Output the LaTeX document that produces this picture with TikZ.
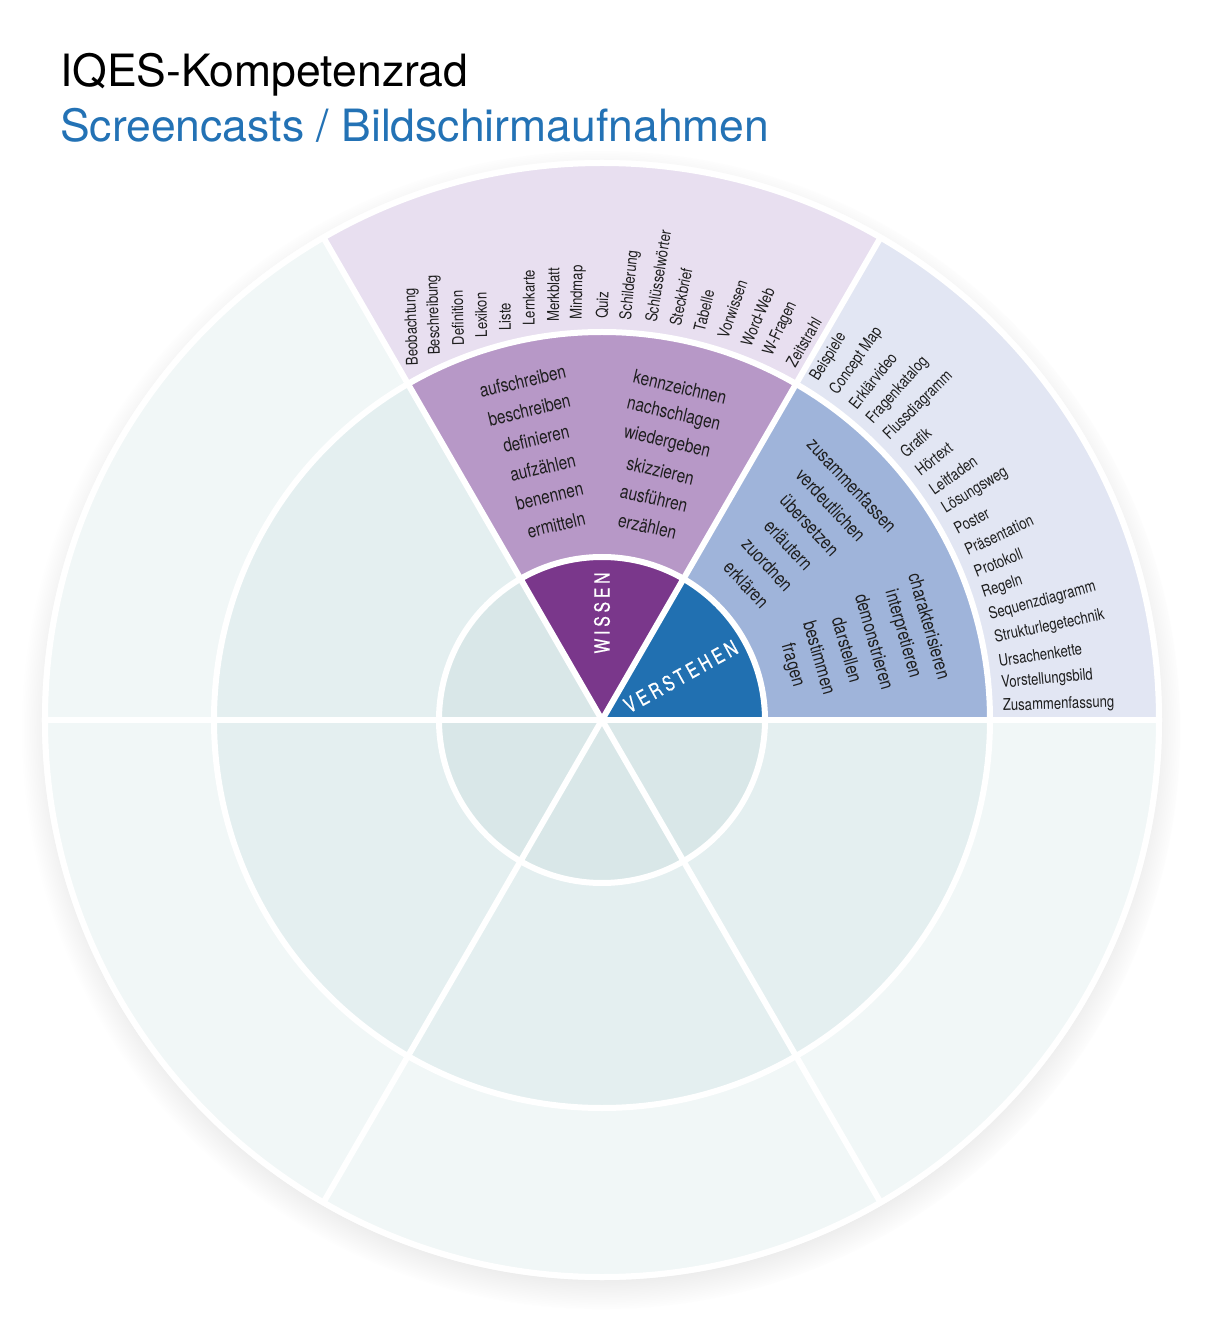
\documentclass[tikz,border=0pt]{standalone}
\usepackage{fontspec}
\setmainfont{TeX Gyre Heros}
\newfontfamily\narrowfont[FakeStretch=0.81]{TeX Gyre Heros}
\newfontfamily\trackfont[FakeStretch=0.75,FakeBold=0.6,LetterSpace=18]{TeX Gyre Heros}
\usetikzlibrary{shadows,fadings}
\definecolor{greyin}{HTML}{D9E7E8}
\definecolor{greymid}{HTML}{E4EFF0}
\definecolor{greyout}{HTML}{F1F7F7}
\definecolor{wissendark}{HTML}{7A378B}
\definecolor{wissenmid}{HTML}{B798C7}
\definecolor{wissenlight}{HTML}{E8DFF0}
\definecolor{verstdark}{HTML}{2170B1}
\definecolor{verstmid}{HTML}{9FB4DA}
\definecolor{verstlight}{HTML}{E2E6F3}
\definecolor{titleblue}{HTML}{2372B5}
\definecolor{wordink}{HTML}{1E1E1E}
\tikzset{
  titletext/.style={anchor=base west, inner sep=0pt, font=\fontsize{44.5}{50}\selectfont},
  outerword/.style={anchor=west, inner sep=0pt, text=wordink, font=\narrowfont\fontsize{16.2}{18}\selectfont},
  midword/.style={anchor=center, inner sep=0pt, text=wordink, font=\narrowfont\fontsize{19}{21}\selectfont},
  corelabel/.style={anchor=center, inner sep=0pt, text=white, font=\trackfont\fontsize{21}{23}\selectfont},
  gapline/.style={draw=white, line width=6pt}
}

\begin{document}
\begin{tikzpicture}[x=1pt,y=1pt]
  \useasboundingbox (-602,-608) rectangle (605,720);
  \node[titletext] (title) at (-542,633) {IQES-Kompetenzrad};
  \node[titletext, text=titleblue] (subtitle) at (-542,578.5) {Screencasts / Bildschirmaufnahmen};

  % wheel with soft shadow
  \fill[white, circular drop shadow={shadow xshift=0pt, shadow yshift=-9pt, shadow scale=1.035, opacity=0.4}] (0,0) circle[radius=560];
  \foreach \a/\cout/\cmid/\cin in {0/verstlight/verstmid/verstdark, 60/wissenlight/wissenmid/wissendark,
      120/greyout/greymid/greyin, 180/greyout/greymid/greyin, 240/greyout/greymid/greyin, 300/greyout/greymid/greyin} {
    \fill[\cout] (0,0) -- (\a:557) arc[start angle=\a, end angle=\a+60, radius=557] -- cycle;
    \fill[\cmid] (0,0) -- (\a:388) arc[start angle=\a, end angle=\a+60, radius=388] -- cycle;
    \fill[\cin] (0,0) -- (\a:163) arc[start angle=\a, end angle=\a+60, radius=163] -- cycle;
  }
  \draw[gapline] (0,0) circle[radius=163] (0,0) circle[radius=388] (0,0) circle[radius=557];
  \foreach \a in {0,60,...,300} \draw[gapline] (0,0) -- (\a:557);

  % core
  \node[corelabel, rotate=90] (wissen) at (90:107) {WISSEN};
  \node[corelabel, rotate=29] (verstehen) at (29:90) {VERSTEHEN};

  % middle ring
  \foreach \w [count=\i from 0] in {aufschreiben,beschreiben,definieren,aufzählen,benennen,ermitteln}
    \node[midword, rotate=13.2] (wl\i) at (103.2:{348-29.5*\i}) {\w};
  \foreach \w [count=\i from 0] in {kennzeichnen,nachschlagen,wiedergeben,skizzieren,ausführen,erzählen}
    \node[midword, rotate=-13.2] (wr\i) at (76.8:{342-28.6*\i}) {\w};
  \foreach \w [count=\i from 0] in {zusammenfassen,verdeutlichen,übersetzen,erläutern,zuordnen,erklären}
    \node[midword, rotate=-46.8] (vl\i) at (43.2:{343-29*\i}) {\w};
  \foreach \w [count=\i from 0] in {charakterisieren,interpretieren,demonstrieren,darstellen,bestimmen,fragen}
    \node[midword, rotate=-74] (vr\i) at (16:{341-28.6*\i}) {\w};

  % outer ring
  \foreach \w/\r [count=\i from 0, evaluate=\i as \ang using 118-3.5*\i] in {Beobachtung/92, Beschreibung/92,
      Definition/91.5, Lexikon/91, Liste/90.5, Lernkarte/90, Merkblatt/89.5, Mindmap/89, Quiz/88,
      Schilderung/84, Schlüsselwörter/81, Steckbrief/78.5, Tabelle/76, Vorwissen/71, Word-Web/67,
      W-Fragen/65, Zeitstrahl/60}
    \node[outerword, rotate=\r] (wo\i) at (\ang:401) {\w};
  \foreach \w [count=\i from 0, evaluate=\i as \ang using 58-3.3*\i] in {Beispiele, Concept Map, Erklärvideo,
      Fragenkatalog, Flussdiagramm, Grafik, Hörtext, Leitfaden, Lösungsweg, Poster, Präsentation, Protokoll,
      Regeln, Sequenzdiagramm, Strukturlegetechnik, Ursachenkette, Vorstellungsbild, Zusammenfassung}
    \node[outerword, rotate=\ang] (vo\i) at (\ang:401) {\w};
\end{tikzpicture}
\end{document}
